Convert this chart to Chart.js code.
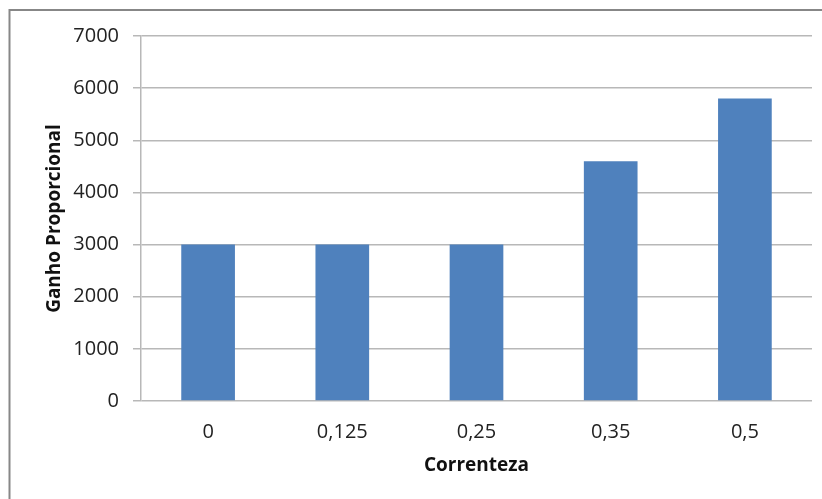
<!DOCTYPE html>
<html>
<head>
<meta charset="utf-8">
<script src="https://cdn.jsdelivr.net/npm/chart.js@4/dist/chart.umd.min.js"></script>
<style>
  html, body { margin: 0; padding: 0; background: #ffffff; }
  #wrap { width: 822px; height: 499px; position: relative; }
</style>
</head>
<body>
<div id="wrap"><canvas id="c" width="822" height="499"></canvas></div>
<script>
// Proportional gain per current level
const categories = ['0', '0,125', '0,25', '0,35', '0,5'];
const gainValues = [3000, 3000, 3000, 4600, 5800];
const yTicks = [0, 1000, 2000, 3000, 4000, 5000, 6000, 7000];

const FONT = '"Open Sans", Lato, sans-serif';

// Frame around the whole chart
const framePlugin = {
  id: 'frame',
  afterDraw(chart) {
    const ctx = chart.ctx;
    ctx.save();
    ctx.strokeStyle = '#878787';
    ctx.lineWidth = 2;
    ctx.beginPath();
    ctx.moveTo(9.5, 499);
    ctx.lineTo(9.5, 10);
    ctx.lineTo(822, 10);
    ctx.stroke();
    ctx.restore();
  }
};

new Chart(document.getElementById('c'), {
  type: 'bar',
  data: {
    labels: categories,
    datasets: [{
      data: gainValues,
      backgroundColor: '#4F81BD',
      borderWidth: 0,
      barPercentage: 0.4,
      categoryPercentage: 1
    }]
  },
  plugins: [framePlugin],
  options: {
    responsive: false,
    animation: false,
    events: [],
    layout: { padding: { left: 10, top: 36, right: 10, bottom: 0 } },
    plugins: { legend: { display: false }, tooltip: { enabled: false } },
    scales: {
      x: {
        grid: { display: false, drawTicks: false },
        border: { display: false },
        ticks: { color: '#222', font: { family: FONT, size: 20 }, padding: 19, maxRotation: 0 },
        title: {
          display: true, text: 'Correnteza', color: '#111',
          font: { family: FONT, size: 19, weight: 'bold' },
          padding: { top: 0, bottom: 22 }
        },
        afterFit(scale) { scale.height = 98; }
      },
      y: {
        min: 0, max: 7000,
        afterBuildTicks(scale) { scale.ticks = yTicks.map(v => ({ value: v })); },
        grid: { color: '#b8b8b8', lineWidth: 1.5, tickLength: 8 },
        border: { display: true, color: '#b8b8b8', width: 1.5 },
        ticks: {
          color: '#222', font: { family: FONT, size: 20 }, padding: 14,
          callback: (v) => String(v)
        },
        title: {
          display: true, text: 'Ganho Proporcional', color: '#111',
          font: { family: FONT, size: 19, weight: 'bold' },
          padding: { top: 33, bottom: 0 }
        },
        afterFit(scale) { scale.width = 131; }
      }
    }
  }
});
</script>
</body>
</html>
